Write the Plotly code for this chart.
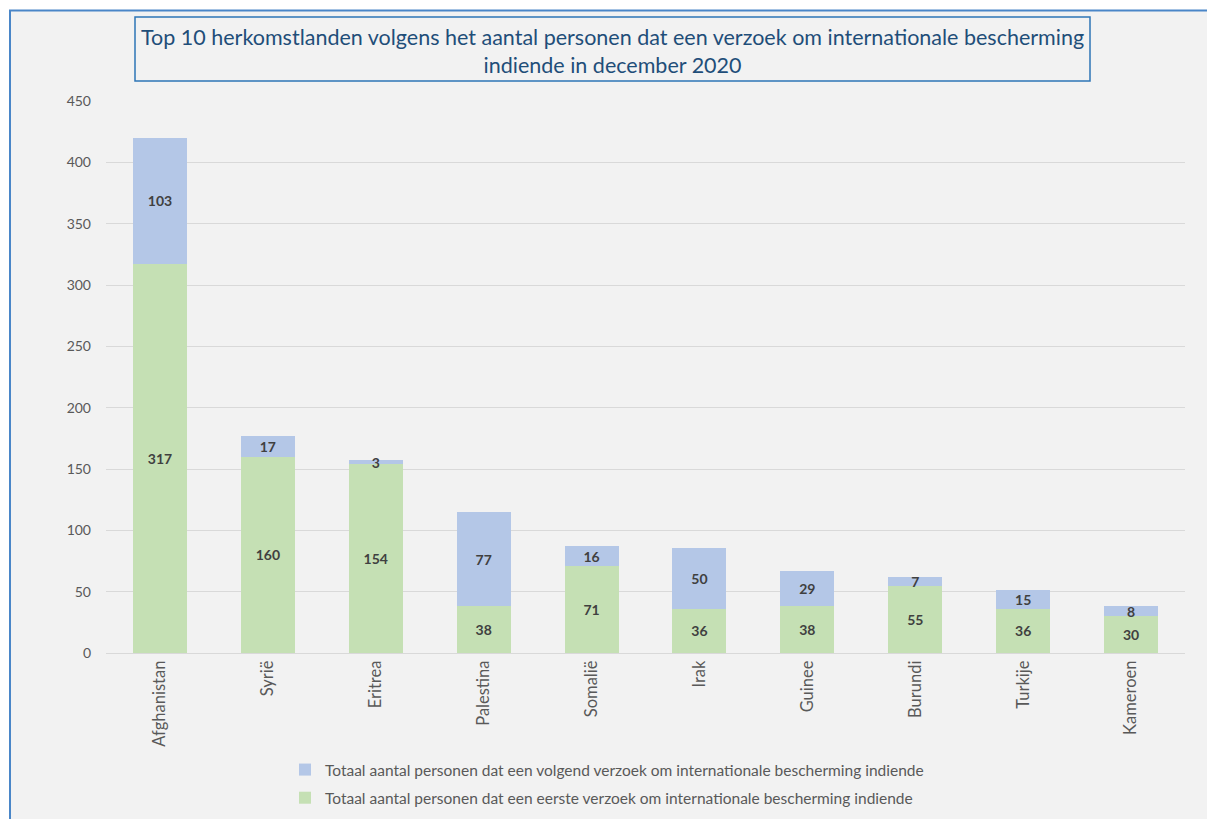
import plotly.graph_objects as go

countries = ["Afghanistan", "Syrië", "Eritrea", "Palestina", "Somalië", "Irak", "Guinee", "Burundi", "Turkije", "Kameroen"]
first_requests = [317, 160, 154, 38, 71, 36, 38, 55, 36, 30]
subsequent_requests = [103, 17, 3, 77, 16, 50, 29, 7, 15, 8]
y_ticks = [0, 50, 100, 150, 200, 250, 300, 350, 400, 450]

name_first = "Totaal aantal personen dat een eerste verzoek om internationale bescherming indiende"
name_next = "Totaal aantal personen dat een volgend verzoek om internationale bescherming indiende"
title_text = ("Top 10 herkomstlanden volgens het aantal personen dat een verzoek om internationale bescherming"
              "<br>indiende in december 2020")

FONT = "Lato"
# the page has an 8px body margin, so the figure is placed 8px right/down;
# extra height below the visible window leaves room for the legend
OFF = 8
EXTRA = 40
W, H = 1215 - OFF, 819 - OFF + EXTRA
PL, PR, PT, PB = 106, 1185, 101, 653   # plot area in reference pixel coordinates
L, R, T, B = PL - OFF, W - (PR - OFF), PT - OFF, H - (PB - OFF)
pw, ph = PR - PL, PB - PT

def px(x):
    return (x - PL) / pw

def py(y):
    return (PB - y) / ph

fig = go.Figure()
fig.add_trace(go.Bar(
    x=countries, y=first_requests, name=name_first, legendgroup="a", legendrank=2,
    marker=dict(color="#c5e0b4", line=dict(width=0)),
    text=first_requests, textposition="inside", insidetextanchor="middle", textangle=0,
    textfont=dict(family=FONT, size=14, color="#404040", weight="bold"),
    width=0.5,
))
fig.add_trace(go.Bar(
    x=countries, y=subsequent_requests, name=name_next, legendgroup="b", legendrank=1,
    marker=dict(color="#b4c7e7", line=dict(width=0)),
    text=subsequent_requests, textposition="inside", insidetextanchor="middle", textangle=0,
    textfont=dict(family=FONT, size=14, color="#404040", weight="bold"),
    width=0.5,
))

shapes = [
    # outer chart frame
    dict(type="rect", xref="paper", yref="paper", layer="below",
         x0=px(10), x1=px(1300), y0=py(950), y1=py(10.5),
         fillcolor="#f2f2f2", line=dict(color="#4a86c8", width=2)),
    # title box
    dict(type="rect", xref="paper", yref="paper",
         x0=px(135), x1=px(1090), y0=py(81), y1=py(17),
         fillcolor="rgba(0,0,0,0)", line=dict(color="#2e75b6", width=1.5)),
]

fig.update_layout(
    width=W, height=H,
    margin=dict(l=L, r=R, t=T, b=B, pad=0),
    paper_bgcolor="white",
    plot_bgcolor="rgba(0,0,0,0)",
    barmode="stack",
    font=dict(family=FONT, color="#595959"),
    uniformtext=dict(mode="show", minsize=14),
    shapes=shapes,
    annotations=[dict(
        xref="paper", yref="paper", x=px(612.5), y=py(51), xanchor="center", yanchor="middle",
        text=title_text, showarrow=False,
        font=dict(family=FONT, size=21.5, color="#1f4e79"), align="center",
    )],
    legend=dict(
        orientation="v",
        x=px(285), xanchor="left",
        y=py(753), yanchor="top",
        traceorder="grouped", tracegroupgap=5,
        font=dict(family=FONT, size=15.5, color="#595959"),
        bgcolor="rgba(0,0,0,0)",
    ),
    xaxis=dict(
        tickangle=-90, tickfont=dict(family=FONT, size=16.5, color="#595959"),
        showline=True, linecolor="#d9d9d9", linewidth=1, ticks="",
        showgrid=False, automargin=False,
    ),
    yaxis=dict(
        range=[0, 450], tickvals=y_ticks,
        tickfont=dict(family=FONT, size=14, color="#595959"),
        showgrid=True, gridcolor="#d9d9d9", gridwidth=1,
        zeroline=False, showline=False, ticks="", ticklen=0,
        ticklabelstandoff=14, automargin=False,
    ),
)

fig.write_html("out.html")
